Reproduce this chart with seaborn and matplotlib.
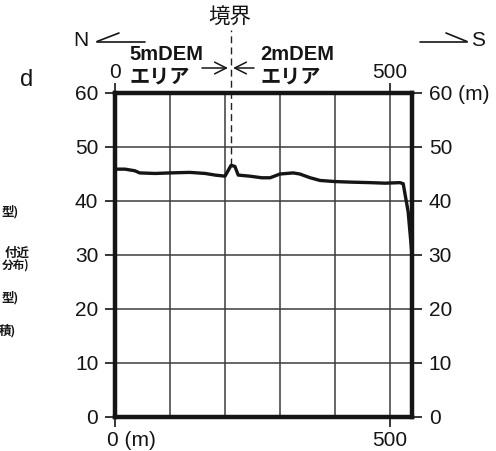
import matplotlib
matplotlib.use("Agg")
import matplotlib.pyplot as plt
import matplotlib.transforms as mtrans
from matplotlib.lines import Line2D
from matplotlib.patches import FancyArrowPatch
import seaborn as sns

# Elevation profile along the section line (N -> S)
distance_m = [0, 18, 36, 45, 73, 100, 136, 164, 182, 200, 205, 211, 218, 224,
              245, 267, 282, 300, 324, 336, 355, 373, 400, 427, 464, 491, 518,
              524, 533, 540]
elevation_m = [45.9, 45.9, 45.6, 45.2, 45.1, 45.2, 45.3, 45.1, 44.8, 44.6,
               45.5, 46.6, 46.4, 44.8, 44.6, 44.3, 44.3, 45.0, 45.2, 45.0,
               44.3, 43.8, 43.6, 43.5, 43.4, 43.3, 43.4, 43.2, 38.0, 30.0]

y_ticks = [0, 10, 20, 30, 40, 50, 60]
left_labels = ["0", "10", "20", "30", "40", "50", "60"]
right_labels = ["0", "10", "20", "30", "40", "50", "60 (m)"]
x_ticks = [0, 500]
bottom_labels = ["0 (m)", "500"]
top_labels = ["0", "500"]
grid_x = [100, 200, 300, 400, 500]
grid_y = [10, 20, 30, 40, 50]
boundary_m = 211
boundary_peak = 46.6

sns.set_theme(style="white")
plt.rcParams["font.family"] = ["Liberation Sans", "Noto Sans CJK JP"]

W, H = 496, 451
fig = plt.figure(figsize=(W / 100, H / 100), dpi=100)
fig.patch.set_facecolor("white")


def fx(x):
    return x / W


def fy(y):
    return 1 - y / H


ax = fig.add_axes([fx(115), fy(417), (412 - 115) / W, (417 - 93) / H])
ax.set_xlim(0, 540)
ax.set_ylim(0, 60)

ink = "#151515"
ax.vlines(grid_x, 0, 60, color="#3c3c3c", lw=1.1, zorder=1)
ax.hlines(grid_y, 0, 540, color="#3c3c3c", lw=1.1, zorder=1)

sns.lineplot(x=distance_m, y=elevation_m, ax=ax, color=ink, lw=2.4,
             zorder=3, legend=False)

# boundary between the 5 m and 2 m DEM areas
ax.plot([boundary_m, boundary_m], [boundary_peak, 71.7], color="#222222",
        lw=1.0, ls=(0, (5, 3)), clip_on=False, zorder=2)

for s in ax.spines.values():
    s.set_linewidth(3.2)
    s.set_color(ink)
    s.set_visible(True)

ax.set_yticks(y_ticks, left_labels)
ax.set_xticks(x_ticks, bottom_labels)
ax.tick_params(axis="y", left=True, direction="out", length=7, width=1.2,
               pad=5, labelsize=15, colors=ink)
ax.tick_params(axis="x", bottom=True, direction="out", length=7, width=1.2,
               pad=3, labelsize=15, colors=ink)
lbl0 = ax.get_xticklabels()[0]
lbl0.set_horizontalalignment("left")
lbl0.set_transform(lbl0.get_transform() +
                   mtrans.ScaledTranslation(-6 / 72, 0, fig.dpi_scale_trans))
ax.set_xlabel("")
ax.set_ylabel("")

ax2 = ax.twinx()
ax2.set_ylim(0, 60)
ax2.set_yticks(y_ticks, right_labels)
ax2.tick_params(axis="y", right=True, direction="out", length=7, width=1.2,
                pad=5, labelsize=15, colors=ink)
for s in ax2.spines.values():
    s.set_visible(False)

top = ax.secondary_xaxis("top")
top.set_xticks(x_ticks, top_labels)
top.tick_params(axis="x", direction="out", length=7, width=1.2, pad=1,
                labelsize=15, colors=ink)
top.spines["top"].set_visible(False)

# panel letter and heading texts
fig.text(fx(27), fy(80), "d", fontsize=17, color=ink, ha="center", va="center")
fig.text(fx(230), fy(18), "境界", fontsize=15.5, color=ink, ha="center",
         va="center", family=["Noto Sans CJK JP"])
fig.text(fx(81), fy(40), "N", fontsize=15, color=ink, ha="center", va="center")
fig.text(fx(478), fy(40), "S", fontsize=15, color=ink, ha="center", va="center")

bold_kw = dict(fontsize=14.5, color=ink, fontweight="bold", va="center",
               ha="left")
fig.text(fx(129), fy(55), "5mDEM", **bold_kw)
fig.text(fx(129), fy(76), "エリア", family=["Noto Sans CJK JP"], **bold_kw)
fig.text(fx(260), fy(55), "2mDEM", **bold_kw)
fig.text(fx(260), fy(76), "エリア", family=["Noto Sans CJK JP"], **bold_kw)

# direction harpoons
line_kw = dict(color=ink, lw=1.2, transform=fig.transFigure)
fig.add_artist(Line2D([fx(97), fx(145)], [fy(41.5), fy(41.5)], **line_kw))
fig.add_artist(Line2D([fx(97), fx(119)], [fy(41.5), fy(33)], **line_kw))
fig.add_artist(Line2D([fx(420), fx(467)], [fy(41.5), fy(41.5)], **line_kw))
fig.add_artist(Line2D([fx(467), fx(446)], [fy(41.5), fy(33)], **line_kw))

# converging arrows at the boundary
arr = dict(arrowstyle="->,head_length=0.6,head_width=0.3", color=ink, lw=1.1,
           shrinkA=0, shrinkB=0, mutation_scale=14, transform=fig.transFigure)
fig.add_artist(FancyArrowPatch((fx(202), fy(68)), (fx(228), fy(68)), **arr))
fig.add_artist(FancyArrowPatch((fx(254), fy(68)), (fx(233), fy(68)), **arr))

# legend fragments of the neighbouring panel along the left edge
side_kw = dict(fontweight="bold", color=ink, ha="right", va="center",
               family=["Noto Sans CJK JP"])
fig.text(fx(19), fy(212), "型)", fontsize=9, **side_kw)
fig.text(fx(30), fy(253), "付近", fontsize=9, **side_kw)
fig.text(fx(29), fy(265), "分布)", fontsize=8.4, **side_kw)
fig.text(fx(19), fy(298), "型)", fontsize=9, **side_kw)
fig.text(fx(16), fy(331), "積)", fontsize=9, **side_kw)

fig.savefig("out.png", dpi=100, facecolor="white")
